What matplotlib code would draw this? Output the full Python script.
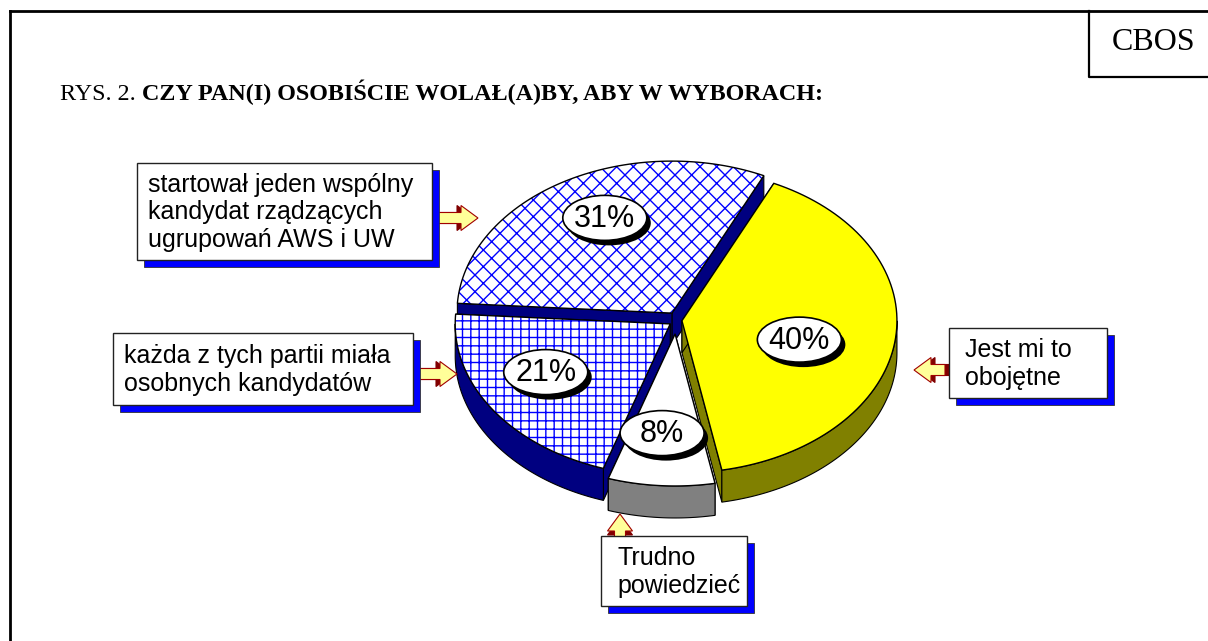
import numpy as np
import matplotlib
matplotlib.use('Agg')
import matplotlib.pyplot as plt
from matplotlib.patches import Polygon, Ellipse, Rectangle

# data (clockwise from the yellow slice)
categories = ['Jest mi to\nobojętne',
              'Trudno\npowiedzieć',
              'każda z tych partii miała\nosobnych kandydatów',
              'startował jeden wspólny\nkandydat rządzących\nugrupowań AWS i UW']
values = [40, 8, 21, 31]
title_regular = 'RYS. 2. '
title_bold = 'CZY PAN(I) OSOBIŚCIE WOLAŁ(A)BY, ABY W WYBORACH:'
logo = 'CBOS'

# styling
top_colors = ['#FFFF00', '#FFFFFF', '#FFFFFF', '#FFFFFF']
side_colors = ['#808000', '#808080', '#000080', '#000080']
hatches = [None, None, '++', 'xx']
explode = [6, 14, 7, 8]
label_dist = [0.56, 0.655, 0.66, 0.70]
label_shift = [-5.5, -1.6, -5.4, -4.0]

# callout boxes (x0, y0, x1, y1) and arrows (tail, tip) in pixels
boxes = [(949, 328, 1107, 398), (601, 536, 747, 606),
         (113, 333, 413, 405), (137, 163, 432, 260)]
arrows = [((945, 370), (914, 370)), ((620, 540), (620, 514)),
          ((410, 374), (457, 374)), ((430, 218), (478, 218))]

sans = 'Liberation Sans'
serif = 'Liberation Serif'

fig = plt.figure(figsize=(12.08, 6.41), dpi=100)
ax = fig.add_axes([0, 0, 1, 1])
ax.set_xlim(0, 1208)
ax.set_ylim(641, 0)
ax.axis('off')

cx, cy = 676, 320
a, b = 215, 152
depth = 32
start = 64.7


def arc(t_from, t_to, ox, oy, dy=0, n=80):
    t = np.radians(np.linspace(t_from, t_to, n))
    return np.column_stack([cx + ox + a * np.cos(t), cy + oy + dy - b * np.sin(t)])


# slice angles
total = sum(values)
slices = []
t2 = start
for i, v in enumerate(values):
    t1 = t2 - v / total * 360
    mid = np.radians((t1 + t2) / 2)
    ox, oy = explode[i] * np.cos(mid), -explode[i] * np.sin(mid)
    slices.append((i, t1, t2, mid, ox, oy))
    t2 = t1

# back to front
order = sorted(slices, key=lambda s: -np.sin(s[3]))
z = 2
for i, t1, t2, mid, ox, oy in order:
    apex = np.array([cx + ox, cy + oy])
    down = np.array([0, depth])
    # radial faces
    for t in (t1, t2):
        p = arc(t, t, ox, oy, n=1)[0]
        ax.add_patch(Polygon([apex, p, p + down, apex + down], closed=True,
                             fc=side_colors[i], ec='black', lw=0.8, zorder=z))
    # outer wall, front part only
    for k in (-1, 0, 1):
        lo, hi = max(t1, -180 + 360 * k), min(t2, 360 * k)
        if hi > lo:
            top = arc(lo, hi, ox, oy)
            bot = arc(hi, lo, ox, oy, dy=depth)
            ax.add_patch(Polygon(np.vstack([top, bot]), closed=True,
                                 fc=side_colors[i], ec='black', lw=0.8, zorder=z))
    # top face
    pts = np.vstack([apex, arc(t2, t1, ox, oy)])
    if hatches[i]:
        ax.add_patch(Polygon(pts, closed=True, fc='white', ec='#0000FF',
                             hatch=hatches[i], lw=0, zorder=z))
        ax.add_patch(Polygon(pts, closed=True, fill=False, ec='black', lw=1, zorder=z))
    else:
        ax.add_patch(Polygon(pts, closed=True, fc=top_colors[i], ec='black',
                             lw=1, zorder=z))
    z += 1

# percentage labels
for i, t1, t2, mid, ox, oy in slices:
    ang = mid + np.radians(label_shift[i])
    lx = cx + ox + label_dist[i] * a * np.cos(ang)
    ly = cy + oy - label_dist[i] * b * np.sin(ang)
    ax.add_patch(Ellipse((lx + 4, ly + 5), 84, 45, fc='black', ec='none', zorder=20))
    ax.add_patch(Ellipse((lx, ly), 84, 45, fc='white', ec='black', lw=1.2, zorder=21))
    ax.text(lx, ly + 1, f'{values[i]}%', ha='center', va='center', fontsize=22,
            family=sans, zorder=22)


# arrows
def block_arrow(tail, tip, hl=17, hw=12.5, sw=5.5):
    tail, tip = np.array(tail, float), np.array(tip, float)
    d = tip - tail
    L = np.hypot(*d)
    u = d / L
    n = np.array([-u[1], u[0]])
    base = tip - u * hl
    return np.array([tail + n * sw, base + n * sw, base + n * hw, tip,
                     base - n * hw, base - n * sw, tail - n * sw]), u


for tail, tip in arrows:
    shape, u = block_arrow(tail, tip)
    ax.add_patch(Polygon(shape - u * 4, closed=True, fc='#800000', ec='#800000',
                         lw=0.8, zorder=25))
    ax.add_patch(Polygon(shape, closed=True, fc='#FFFF99', ec='#A00000',
                         lw=0.8, zorder=26))

# callout boxes
for i, (x0, y0, x1, y1) in enumerate(boxes):
    ax.add_patch(Rectangle((x0 + 7, y0 + 7), x1 - x0, y1 - y0, fc='#0000FF',
                           ec='#333333', lw=0.6, zorder=30))
    ax.add_patch(Rectangle((x0, y0), x1 - x0, y1 - y0, fc='white',
                           ec='#222222', lw=1.0, zorder=31))
    pad = 16 if i < 2 else 11
    ax.text(x0 + pad, (y0 + y1) / 2 + 1, categories[i], ha='left', va='center',
            fontsize=18, family=sans, linespacing=1.2, zorder=32)

# frame
ax.plot([10, 10], [641, 11], color='black', lw=2, solid_capstyle='projecting', zorder=40)
ax.plot([10, 1208], [11, 11], color='black', lw=2, solid_capstyle='projecting', zorder=40)
ax.plot([1089, 1089, 1208], [11, 77, 77], color='black', lw=1.6, zorder=40)
ax.text(1154, 43, logo, ha='center', va='center', fontsize=23, family=serif, zorder=41)

# title: regular prefix then bold question
t_reg = ax.text(60, 100, title_regular, ha='left', va='baseline', fontsize=17.4,
                family=serif, zorder=41)
fig.canvas.draw()
bb = t_reg.get_window_extent()
x_end = ax.transData.inverted().transform((bb.x1, bb.y0))[0]
ax.text(x_end, 100, title_bold, ha='left', va='baseline', fontsize=17.4,
        family=serif, fontweight='bold', zorder=41)

fig.savefig('out.png', dpi=100)
